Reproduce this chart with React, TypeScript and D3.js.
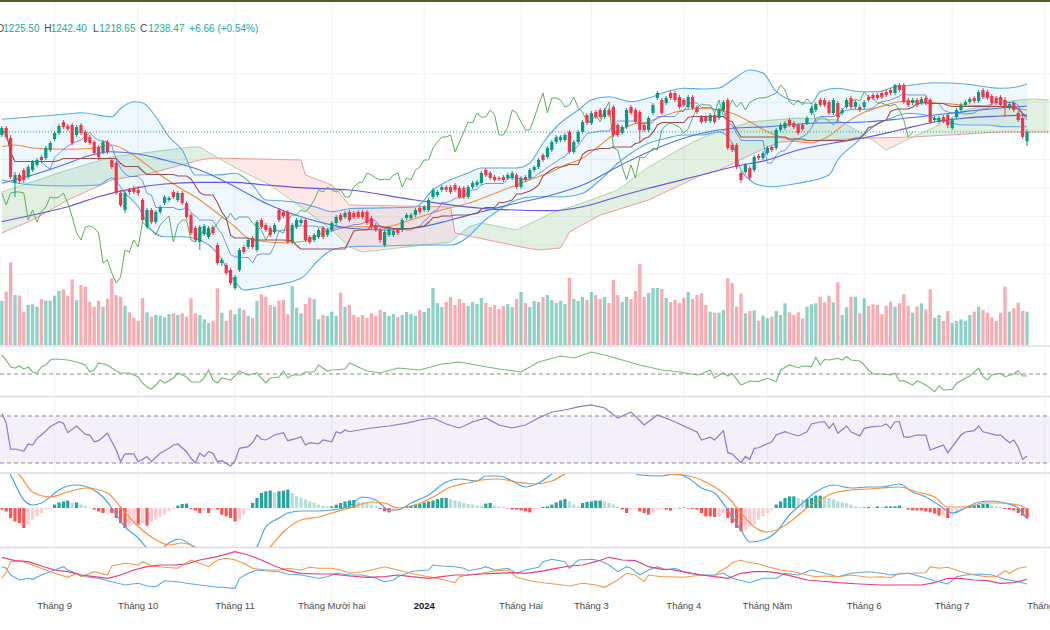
import React from "react";
import * as d3 from "d3";

type Pair = [number, number];

// ---------------- price data (daily bars) ----------------
const opens = [
  1234.3,1244.1,1230.1,1167.1,1178.3,1185.3,1175.5,1185.3,1192.3,1203.5,
  1202.1,1213.3,1228.7,1237.1,1252.5,1246.9,1248.3,1234.3,1248.3,1238.5,
  1231.5,1224.5,1217.5,1210.5,1224.5,1199.3,1195.1,1153.1,1129.3,1157.3,
  1160.1,1157.3,1143.3,1105.5,1129.3,1112.5,1126.5,1139.1,1143.3,1154.5,
  1143.3,1153.1,1139.1,1122.3,1104.1,1084.5,1095.7,1091.5,1105.5,1080.3,
  1055.1,1052.3,1045.3,1020.1,1045.3,1077.5,1077.5,1090.1,1073.3,1115.3,
  1108.3,1104.1,1098.5,1129.3,1126.5,1126.5,1084.5,1105.5,1111.1,1115.3,
  1091.5,1087.3,1091.5,1104.1,1094.3,1101.3,1111.1,1122.3,1119.5,1126.5,
  1125.1,1126.5,1126.5,1126.5,1118.1,1108.3,1101.3,1080.3,1094.3,1094.3,
  1101.3,1101.3,1118.1,1118.1,1122.3,1132.1,1129.3,1129.3,1147.5,1150.3,
  1157.3,1161.5,1161.5,1164.3,1160.1,1160.1,1147.5,1161.5,1164.3,1167.1,
  1185.3,1181.1,1175.5,1174.1,1175.5,1174.1,1174.1,1178.3,1161.5,1175.5,
  1174.1,1185.3,1189.5,1206.3,1203.5,1213.3,1224.5,1227.3,1227.3,1238.5,
  1210.5,1224.5,1238.5,1262.3,1251.1,1266.5,1269.3,1259.5,1269.3,1273.5,
  1248.3,1237.1,1245.5,1273.5,1269.3,1266.5,1248.3,1241.3,1265.1,1286.1,
  1283.3,1279.1,1293.1,1293.1,1287.5,1283.3,1273.5,1287.5,1273.5,1259.5,
  1259.5,1253.9,1262.3,1258.1,1269.3,1283.3,1220.3,1220.3,1181.1,1182.5,
  1188.1,1185.3,1204.9,1202.1,1209.1,1217.5,1216.1,1241.3,1244.1,1255.3,
  1251.1,1248.3,1248.3,1251.1,1265.1,1269.3,1283.3,1283.3,1280.5,1265.1,
  1279.1,1265.1,1273.5,1286.1,1273.5,1273.5,1273.5,1287.5,1290.3,1290.3,
  1293.1,1294.5,1297.3,1293.1,1304.3,1304.3,1283.3,1279.1,1283.3,1279.1,
  1286.1,1283.3,1255.3,1252.5,1259.5,1262.3,1244.1,1259.5,1269.3,1276.3,
  1280.5,1286.1,1281.9,1297.3,1294.5,1288.9,1286.1,1287.5,1283.3,1272.1,
  1279.1,1265.1,1258.1,1225.5,
];
const highs = [
  1246.9,1246.9,1234.3,1182.5,1181.1,1188.1,1192.3,1199.3,1202.1,1206.3,
  1218.9,1225.9,1239.9,1249.7,1255.3,1249.7,1251.1,1248.3,1251.1,1241.3,
  1234.3,1227.3,1220.3,1227.3,1227.3,1202.1,1197.9,1157.3,1155.9,1160.1,
  1162.9,1162.9,1146.1,1132.1,1132.1,1129.3,1136.3,1150.3,1148.9,1157.3,
  1155.9,1155.9,1141.9,1125.1,1106.9,1108.3,1109.7,1106.9,1108.3,1083.1,
  1062.1,1055.1,1048.1,1038.3,1076.1,1080.3,1090.1,1092.9,1115.3,1118.1,
  1111.1,1106.9,1111.1,1132.1,1129.3,1129.3,1111.1,1118.1,1118.1,1118.1,
  1094.3,1097.1,1104.1,1106.9,1104.1,1113.9,1122.3,1125.1,1127.9,1129.3,
  1127.9,1129.3,1129.3,1129.3,1120.9,1111.1,1104.1,1101.3,1104.1,1102.7,
  1104.1,1118.1,1125.1,1125.1,1132.1,1134.9,1136.3,1146.1,1160.1,1157.3,
  1164.3,1164.3,1164.3,1167.1,1162.9,1162.9,1164.3,1169.9,1171.3,1183.9,
  1188.1,1183.9,1178.3,1176.9,1178.3,1181.1,1183.9,1181.1,1176.9,1178.3,
  1188.1,1192.3,1202.1,1209.1,1218.9,1227.3,1234.3,1234.3,1237.1,1241.3,
  1227.3,1241.3,1255.3,1265.1,1267.9,1269.3,1272.1,1272.1,1272.1,1276.3,
  1251.1,1248.3,1272.1,1276.3,1272.1,1269.3,1251.1,1260.9,1279.1,1295.9,
  1286.1,1288.9,1295.9,1295.9,1290.3,1286.1,1290.3,1290.3,1276.3,1262.3,
  1262.3,1265.1,1265.1,1272.1,1283.3,1286.1,1223.1,1223.1,1183.9,1195.1,
  1190.9,1206.3,1207.7,1211.9,1218.9,1220.3,1244.1,1251.1,1253.9,1258.1,
  1253.9,1251.1,1251.1,1260.9,1274.9,1280.5,1286.1,1286.1,1283.3,1286.1,
  1281.9,1272.1,1286.1,1288.9,1283.3,1276.3,1283.3,1290.3,1293.1,1293.1,
  1295.9,1297.3,1300.1,1305.7,1307.1,1307.1,1286.1,1286.1,1286.1,1287.5,
  1288.9,1286.1,1260.9,1260.9,1262.3,1265.1,1258.1,1272.1,1279.1,1283.3,
  1287.5,1288.9,1297.3,1300.1,1297.3,1291.7,1288.9,1290.3,1287.5,1280.5,
  1281.9,1267.9,1260.9,1242.4,
];
const lows = [
  1231.5,1228.7,1172.7,1147.5,1165.7,1167.1,1172.7,1182.5,1189.5,1195.1,
  1199.3,1210.5,1225.9,1234.3,1242.7,1239.9,1220.3,1231.5,1234.3,1223.1,
  1220.3,1206.3,1199.3,1207.7,1207.7,1186.7,1150.3,1133.5,1125.1,1150.3,
  1151.7,1148.9,1112.5,1102.7,1109.7,1109.7,1123.7,1136.3,1140.5,1144.7,
  1140.5,1136.3,1116.7,1094.3,1084.5,1073.3,1092.9,1088.7,1094.3,1052.3,
  1050.9,1038.3,1024.3,1017.3,1042.5,1067.7,1074.7,1074.7,1070.5,1102.7,
  1098.5,1091.5,1095.7,1112.5,1118.1,1081.7,1081.7,1102.7,1108.3,1084.5,
  1081.7,1084.5,1088.7,1088.7,1091.5,1098.5,1108.3,1112.5,1116.7,1112.5,
  1116.7,1116.7,1116.7,1108.3,1102.7,1098.5,1083.1,1077.5,1091.5,1091.5,
  1094.3,1098.5,1115.3,1115.3,1119.5,1123.7,1126.5,1126.5,1144.7,1147.5,
  1154.5,1154.5,1151.7,1154.5,1144.7,1144.7,1144.7,1158.7,1161.5,1164.3,
  1175.5,1171.3,1168.5,1169.9,1168.5,1171.3,1171.3,1158.7,1158.7,1168.5,
  1171.3,1182.5,1186.7,1196.5,1200.7,1210.5,1221.7,1224.5,1224.5,1207.7,
  1207.7,1221.7,1235.7,1248.3,1248.3,1256.7,1256.7,1256.7,1259.5,1231.5,
  1231.5,1234.3,1242.7,1262.3,1249.7,1224.5,1238.5,1238.5,1262.3,1283.3,
  1262.3,1276.3,1283.3,1280.5,1270.7,1273.5,1270.7,1269.3,1263.7,1249.7,
  1251.1,1251.1,1249.7,1255.3,1266.5,1213.3,1210.5,1186.7,1167.1,1179.7,
  1171.3,1182.5,1199.3,1199.3,1206.3,1210.5,1213.3,1238.5,1241.3,1245.5,
  1242.7,1234.3,1239.9,1248.3,1262.3,1266.5,1273.5,1273.5,1262.3,1262.3,
  1251.1,1262.3,1270.7,1270.7,1270.7,1266.5,1270.7,1280.5,1283.3,1283.3,
  1284.7,1287.5,1290.3,1290.3,1294.5,1277.7,1273.5,1276.3,1273.5,1276.3,
  1276.3,1249.7,1252.5,1249.7,1251.1,1244.1,1241.3,1256.7,1266.5,1273.5,
  1277.7,1279.1,1279.1,1284.7,1283.3,1276.3,1276.3,1273.5,1259.5,1269.3,
  1266.5,1252.5,1228.7,1218.65,
];
const closes = [
  1244.1,1231.5,1175.5,1178.3,1169.9,1171.3,1189.5,1196.5,1199.3,1199.3,
  1216.1,1223.1,1237.1,1246.9,1245.5,1242.7,1223.1,1245.5,1237.1,1224.5,
  1223.1,1209.1,1203.5,1224.5,1210.5,1189.5,1153.1,1136.3,1153.1,1154.5,
  1154.5,1153.1,1115.3,1129.3,1112.5,1126.5,1133.5,1147.5,1146.1,1147.5,
  1153.1,1139.1,1119.5,1097.1,1087.3,1105.5,1106.9,1104.1,1097.1,1055.1,
  1059.3,1041.1,1027.1,1035.5,1073.3,1070.5,1087.3,1077.5,1112.5,1105.5,
  1101.3,1094.3,1108.3,1115.3,1120.9,1084.5,1108.3,1115.3,1115.3,1087.3,
  1084.5,1094.3,1101.3,1091.5,1101.3,1111.1,1119.5,1115.3,1125.1,1115.3,
  1119.5,1119.5,1119.5,1111.1,1105.5,1101.3,1087.3,1098.5,1101.3,1099.9,
  1097.1,1115.3,1122.3,1122.3,1129.3,1126.5,1133.5,1143.3,1157.3,1154.5,
  1161.5,1157.3,1154.5,1157.3,1147.5,1147.5,1161.5,1167.1,1168.5,1181.1,
  1178.3,1174.1,1171.3,1172.7,1171.3,1178.3,1181.1,1161.5,1174.1,1171.3,
  1185.3,1189.5,1199.3,1199.3,1216.1,1224.5,1231.5,1231.5,1234.3,1210.5,
  1224.5,1238.5,1252.5,1251.1,1265.1,1259.5,1259.5,1269.3,1262.3,1234.3,
  1234.3,1245.5,1269.3,1265.1,1252.5,1241.3,1241.3,1258.1,1276.3,1293.1,
  1265.1,1286.1,1286.1,1283.3,1273.5,1276.3,1287.5,1272.1,1266.5,1252.5,
  1253.9,1262.3,1252.5,1269.3,1280.5,1216.1,1213.3,1189.5,1171.3,1192.3,
  1174.1,1203.5,1202.1,1209.1,1216.1,1213.3,1241.3,1248.3,1251.1,1248.3,
  1245.5,1237.1,1242.7,1258.1,1272.1,1277.7,1276.3,1276.3,1265.1,1283.3,
  1259.5,1269.3,1283.3,1273.5,1280.5,1269.3,1280.5,1283.3,1286.1,1286.1,
  1287.5,1290.3,1293.1,1304.3,1297.3,1280.5,1276.3,1283.3,1276.3,1284.7,
  1279.1,1252.5,1258.1,1258.1,1253.9,1248.3,1255.3,1269.3,1276.3,1280.5,
  1284.7,1281.9,1294.5,1287.5,1286.1,1279.1,1279.1,1276.3,1274.9,1277.7,
  1269.3,1255.3,1231.81,1238.47,
];
const volumes = [
  440,533,827,500,493,333,400,407,383,457,
  443,443,493,540,557,493,657,447,600,583,
  433,383,443,383,463,667,500,483,393,327,
  273,243,467,327,283,300,293,277,310,317,
  300,317,283,467,317,300,257,223,243,567,
  323,243,350,307,367,350,290,267,443,507,
  483,400,383,443,450,307,590,373,317,410,
  473,457,257,300,290,333,293,523,383,400,
  300,280,300,270,320,290,350,330,290,310,
  280,300,330,310,290,350,330,370,570,420,
  380,430,480,400,460,420,390,430,410,470,
  420,380,400,360,390,410,380,460,530,420,
  380,440,430,480,500,450,420,440,410,670,
  460,440,480,450,530,500,460,480,420,650,
  500,430,480,460,540,810,480,520,570,570,
  560,470,430,450,420,470,530,460,500,517,
  400,333,323,323,350,667,617,383,517,317,
  340,347,243,293,267,283,340,300,417,327,
  300,327,267,383,407,417,483,427,493,427,
  627,300,377,483,483,317,467,390,407,400,
  307,393,433,383,417,507,393,323,383,417,
  357,557,273,300,240,340,223,240,257,243,
  300,333,383,350,323,277,240,323,583,333,
  367,423,340,333,
];

// ---------------- indicator readings [barIndex, value] ----------------
const bbUpper: Pair[] = [[0,1256.3],[7,1259.9],[15,1263.7],[18,1265.5],[25,1259.9],[27,1271.7],[30,1280.9],[32,1279.5],[35,1259.9],[38,1231.9],[41,1213.3],[44,1178.3],[49,1178.3],[53,1180.7],[57,1164.3],[60,1143.3],[64,1141.9],[68,1138.7],[72,1132.1],[75,1126.9],[79,1131],[94,1133.5],[98,1157.3],[106,1181.1],[109,1188.1],[117,1188.1],[120,1195.1],[123,1223.1],[126,1245.5],[131,1269.3],[134,1283.3],[138,1287.9],[143,1280.9],[147,1286.1],[151,1294.9],[155,1299.7],[159,1298.7],[163,1300.1],[166,1311.3],[170,1325.3],[173,1321.1],[176,1294.9],[181,1280.9],[184,1278.7],[186,1294.9],[190,1299.7],[195,1294.9],[199,1294.9],[203,1301.9],[207,1304.3],[212,1307.5],[219,1305.7],[227,1299.7],[231,1301.9],[233,1305.7]];
const bbLower: Pair[] = [[0,1171.3],[7,1164.3],[15,1162.9],[22,1164.3],[25,1174.1],[28,1152.7],[31,1133.9],[34,1101.3],[37,1091.9],[41,1091.9],[45,1087.3],[49,1068.7],[53,1028.9],[55,1017.3],[60,1021.9],[68,1033.7],[72,1059.3],[75,1073.3],[79,1077.9],[87,1078.9],[94,1080.3],[102,1080.3],[106,1091.9],[109,1110.7],[113,1129.3],[117,1143.3],[121,1147.9],[128,1147.9],[132,1152.7],[136,1171.3],[140,1194.7],[143,1208.7],[147,1222.7],[151,1229.7],[155,1234.3],[159,1234.3],[163,1238.9],[166,1222.7],[168,1185.3],[170,1171.3],[172,1164.3],[175,1161.9],[181,1166.7],[188,1178.3],[190,1199.3],[194,1222.7],[198,1245.9],[202,1257.7],[206,1264.7],[210,1262.3],[213,1255.3],[216,1250.7],[219,1248.3],[224,1248.3],[228,1245.9],[233,1245.9]];
const bbBasis: Pair[] = [[0,1217.9],[3,1220.3],[7,1216.1],[15,1214.3],[21,1216.1],[25,1220.3],[28,1213.3],[32,1196.9],[36,1178.3],[40,1161.9],[45,1143.3],[49,1124.7],[53,1105.9],[56,1089.7],[60,1084.9],[64,1083.5],[68,1084.9],[72,1094.3],[75,1103.7],[79,1105.9],[87,1105.9],[94,1117.7],[100,1129.3],[106,1138.7],[113,1154.9],[117,1164.3],[121,1173.7],[125,1182.9],[128,1192.3],[132,1201.7],[136,1220.3],[140,1238.9],[143,1248.3],[147,1252.9],[151,1262.3],[155,1269.3],[159,1271.7],[163,1269.3],[166,1264.7],[170,1252.9],[174,1238.9],[178,1229.7],[181,1224.9],[184,1223.5],[188,1233],[192,1252],[196,1266],[201,1276.3],[204,1280.9],[208,1280.9],[212,1279.5],[219,1276.3],[227,1273.9],[233,1269.3]];
const maMid: Pair[] = [[0,1166.7],[7,1178.3],[15,1194.7],[19,1203.9],[25,1210.9],[30,1208.7],[37,1199.3],[45,1185.3],[53,1161.9],[60,1138.7],[68,1119.9],[75,1108.3],[79,1103.7],[87,1101.3],[94,1104.1],[102,1115.3],[109,1126.9],[117,1138.7],[125,1150.3],[132,1164.3],[140,1189.9],[147,1210.9],[155,1229.7],[159,1236.7],[166,1243.7],[174,1245.9],[184,1250.7],[197,1252.9],[204,1256.7],[216,1265.1],[227,1272.1],[233,1274.9]];
const maSlow: Pair[] = [[0,1112.9],[7,1122.3],[15,1133.9],[22,1147.9],[30,1159.7],[37,1165.7],[45,1168.1],[53,1168.1],[60,1164.3],[68,1160.5],[79,1157.3],[94,1143.3],[109,1131.7],[125,1128.3],[132,1133.9],[140,1147.9],[147,1159.7],[159,1178.3],[166,1189.5],[174,1199.3],[181,1213.3],[189,1223.1],[197,1231.5],[204,1241.3],[212,1252.5],[219,1258.1],[227,1260.9],[233,1262.3]];
const spanA: Pair[] = [[0,1154.5],[15,1185.3],[25,1203.5],[34,1210.5],[43,1217.5],[45,1217.5],[48,1206.3],[54,1185.3],[61,1164.3],[68,1133.5],[75,1101.3],[79,1077.5],[82,1070.5],[102,1084.5],[106,1105.5],[109,1111.1],[117,1101.3],[125,1125.1],[132,1139.1],[140,1157.3],[147,1189.5],[155,1217.5],[159,1230.1],[170,1252.5],[181,1258.1],[190,1255.3],[197,1231.5],[201,1213.3],[207,1231.5],[212,1245.5],[219,1269.3],[227,1280.5],[234,1284.7],[238,1283.3]];
const spanB: Pair[] = [[0,1097.1],[7,1115.3],[15,1143.3],[25,1171.3],[34,1181.1],[45,1199.3],[48,1202.1],[68,1199.3],[69,1178.3],[75,1164.3],[78,1143.3],[79,1136.3],[102,1133.5],[103,1097.1],[118,1077.5],[122,1073.3],[127,1076.1],[129,1098.5],[136,1122.3],[147,1143.3],[159,1178.3],[163,1185.3],[174,1217.5],[177,1224.5],[197,1230.1],[207,1231.5],[227,1238.5],[238,1238.5]];

const oscLine: Pair[] = [[0,0.19],[1,0.14],[2,0.07],[3,0.06],[4,0.08],[5,0.05],[6,0.07],[7,0.02],[8,0.01],[9,0.07],[10,0.09],[11,0.14],[12,0.15],[15,0.14],[17,0.12],[19,0.09],[20,0.02],[21,0.04],[22,0.11],[24,0.09],[25,0.06],[26,0.03],[27,0.01],[29,0.01],[31,-0.03],[32,-0.09],[33,-0.13],[34,-0.15],[35,-0.11],[36,-0.06],[37,-0.09],[39,-0.04],[40,0.01],[42,-0.03],[43,-0.08],[45,-0.08],[46,-0.04],[47,0.04],[48,-0.06],[49,-0.09],[50,-0.04],[52,-0.06],[53,-0.02],[54,0.03],[56,-0.01],[57,0],[58,0.01],[60,-0.09],[61,-0.04],[63,-0.03],[64,0.03],[65,-0.04],[66,-0.01],[68,-0.01],[69,0.02],[71,0.02],[72,0.09],[74,0.03],[75,0.04],[78,0.05],[79,0.11],[83,0.03],[86,0.01],[90,0.06],[95,0.04],[100,0.1],[104,0.12],[109,0.08],[113,0.05],[118,0.02],[122,0.12],[127,0.18],[130,0.16],[134,0.22],[137,0.19],[141,0.14],[145,0.09],[150,0.04],[154,0.02],[158,-0.01],[159,0],[161,0.04],[162,-0.04],[164,0.013],[165,-0.02],[166,0.007],[168,-0.11],[170,-0.07],[172,-0.077],[174,-0.043],[176,-0.077],[177,0.04],[179,0.09],[181,0.063],[182,0.08],[184,0.073],[185,0.167],[186,0.09],[187,0.147],[188,0.14],[190,0.157],[191,0.14],[192,0.173],[193,0.14],[195,0.13],[196,0.09],[197,0.04],[198,0],[200,0],[202,-0.01],[203,0.007],[204,-0.07],[205,-0.067],[207,-0.11],[208,-0.07],[209,-0.087],[210,-0.11],[212,-0.177],[213,-0.12],[214,-0.16],[216,-0.153],[217,-0.093],[219,-0.043],[220,-0.02],[222,0.057],[223,-0.027],[224,-0.06],[225,-0.01],[227,0.007],[228,-0.027],[230,0],[231,0.033],[232,-0.02],[233,-0.02]];

const rsiLine: Pair[] = [[0,72.3],[1,63.8],[2,41.7],[3,41.9],[5,40.2],[6,46.2],[7,45.3],[8,51],[9,53.8],[11,60.9],[13,65.1],[14,63.8],[15,55.8],[17,61.5],[19,54.4],[20,53.8],[21,48.1],[22,49],[24,55.3],[26,41.1],[27,31.1],[28,37.7],[30,37.7],[31,31.1],[33,35.4],[34,31.1],[36,38.3],[38,42.5],[39,45.3],[40,46.2],[42,39.6],[43,34],[44,30.3],[45,38.3],[46,35.4],[47,39.6],[48,38.3],[49,31.1],[50,32],[52,27.4],[53,31.7],[54,42.5],[56,43.9],[57,47.3],[58,53.8],[59,50.2],[60,49.6],[62,53.8],[64,55.8],[65,49],[67,51],[68,52.4],[69,45.3],[70,47.3],[72,46.2],[73,49.6],[75,48.1],[76,56.6],[77,55.3],[78,58.1],[79,56.6],[84,59.8],[88,61.5],[92,64],[95,66.6],[98,68.3],[101,63.2],[104,59.8],[107,64.9],[110,68.3],[113,62.3],[116,59.8],[119,62.3],[122,68.3],[125,73.4],[128,75.1],[131,77.7],[134,79.4],[137,76.8],[140,68.3],[143,73.4],[146,62.3],[149,70.9],[152,66.6],[155,61.5],[158,56.4],[159,49.6],[161,51.9],[162,49.6],[164,57.5],[165,38.8],[166,37.7],[168,30.3],[169,35.4],[170,33.1],[171,42.5],[172,43],[175,48.1],[176,53.8],[178,56.6],[179,55.3],[181,53],[183,56.6],[184,63.2],[186,64.9],[187,65.1],[188,59.5],[189,63.8],[190,55.3],[192,61.5],[193,56.6],[195,53],[196,59.5],[198,60.9],[200,61.5],[201,63.2],[202,59.5],[203,65.1],[204,65.1],[205,52.4],[206,51.9],[208,53.8],[210,53.8],[211,41.1],[213,43.9],[214,45.3],[215,38.8],[218,53.8],[219,56.4],[221,57.5],[222,61.5],[223,56.6],[226,53.8],[227,53.8],[229,47.3],[230,49.6],[231,43.4],[232,33.1],[233,36]];

const macdLine: Pair[] = [[0,24],[2,16.5],[5,4],[7,1.5],[9,2.5],[13,9],[15,11],[17,11.5],[20,10],[23,5.5],[25,0],[28,-9.5],[31,-15],[33,-20],[35,-22],[38,-17.5],[40,-15.5],[43,-18.5],[46,-26],[50,-31],[53,-32],[55,-28.5],[58,-19.5],[60,-9.5],[63,-5],[65,-2.5],[68,-1.5],[72,-1.5],[75,-1],[79,1],[82,5.5],[85,4],[88,-1],[90,-1],[93,2.5],[97,6.5],[101,13],[104,14.5],[108,13.5],[110,16],[113,16],[116,13.5],[119,10.5],[122,12.5],[125,17],[127,20],[131,24],[136,25],[140,23],[145,16.5],[150,16],[153,17],[156,15],[159,10],[162,7.5],[165,-1],[168,-11],[170,-17],[173,-16],[176,-12],[179,-3.5],[182,2.5],[185,8],[189,11.5],[193,10],[197,10.5],[200,10.5],[204,12],[207,8],[210,5.5],[213,1.5],[216,-2.5],[219,0],[222,3],[225,3.5],[228,2.5],[231,0],[233,-5.5]];
const signalLine: Pair[] = [[0,21.5],[4,16.5],[7,8],[11,5.5],[15,8],[19,10],[24,7.5],[27,0.5],[30,-7],[34,-14.5],[38,-18.5],[41,-17.5],[45,-20.5],[48,-24],[53,-27],[58,-26],[61,-19.5],[64,-12],[68,-6],[72,-4.5],[75,-2.5],[79,0],[84,3],[87,2.5],[90,0],[94,1.5],[98,5.5],[102,10.5],[106,12.5],[109,14],[113,14.5],[117,13],[121,12],[125,13.5],[128,17],[131,20],[136,22.5],[143,23],[147,21],[151,17],[155,16.5],[159,14],[162,10.5],[165,5.5],[168,-2.5],[171,-9.5],[174,-12],[177,-10],[180,-5.5],[183,0],[186,4],[189,7.5],[193,9],[197,9.5],[200,10],[204,10.5],[208,8],[212,5.5],[215,0.5],[219,0.5],[223,2.5],[227,2.5],[231,1.5],[233,-0.5]];
const macdHist = [
  -0.8,-1.7,-5,-6.7,-7.5,-10,-8.3,-5.8,-4.2,-2.5,
  -0.8,-0.3,1.7,2.8,3.3,3.7,2.5,2.8,1.7,0.8,
  0.2,-0.8,-1.7,-2.5,-0.8,-2.5,-5,-7.5,-10,-9.2,
  -8.3,-8.3,-7.5,-8.8,-6.7,-5.8,-4.5,-3.3,-1.7,-0.5,
  1.2,2,2.2,-0.5,-1.2,-2.5,-1.3,-2.5,-0.8,-0.8,
  -3.3,-4.2,-5,-6.7,-5.8,-3.3,-0.8,2.5,5,7.5,
  8.3,8.7,7.8,8.3,8.7,9.2,7.5,5.8,5,4.2,
  3.3,2.5,1.7,1.2,0.8,0.8,1.7,2.5,3.3,3.8,
  4,3.3,2.8,2.5,1.7,0.8,-0.5,-1.7,-2.2,-1.7,
  -0.8,-0.3,0.8,1.2,1.7,2.2,2.8,3.3,3.8,4.5,
  5,5,4.5,3.8,3.3,2.5,2,1.7,1.3,1.2,
  2.2,2.5,1.2,0.8,0.5,-0.3,-0.8,-0.8,-1.2,-1.7,
  -2.2,-0.8,-0.5,0.5,0.8,1.7,2.8,3.8,4.5,3.3,
  1.7,0.8,2.5,3,3.3,3.7,3.7,3.3,2.5,1.7,
  0.8,-0.8,-2.5,-0.8,-0.5,-1.7,-2.5,-3.3,-2.2,-0.8,
  -0.5,-0.8,-1.3,-0.5,0.1,0.3,-0.1,-0.5,-0.8,-2.5,
  -4.2,-4.2,-4.5,-4.2,-2.5,-5,-7.5,-10,-11.7,-10.8,
  -9.2,-8.3,-5.8,-4.2,-2.5,-0.8,1.7,3.3,5,5.8,
  5.8,5,4.2,4.5,5,6.2,6.2,5.8,5,4.2,
  3.3,2.8,2.5,1.7,0.8,0.3,0.3,0.5,0.3,0.8,
  0.5,0.8,0.8,0.8,1.2,0.5,-0.8,-1.2,-1.2,-1.2,
  -1.7,-2.2,-2.8,-3.8,-3.3,-5,-4.2,-2.5,-0.8,-0.1,
  1.2,1.3,1.7,2,2,1.2,0.8,0.5,-0.5,-0.8,
  -1.2,-2.5,-3.8,-5,
];

const diPlus: Pair[] = [[0,31.3],[1,29.7],[2,23],[4,18],[6,19.7],[7,18.7],[9,23],[12,28],[14,31.3],[15,28],[17,24.7],[19,21.3],[22,19.7],[25,16.3],[28,13],[31,14.7],[33,12],[35,11.3],[37,17.3],[40,16.3],[42,14.7],[45,13],[48,11.3],[50,10.7],[53,9.7],[54,19.7],[56,24.7],[58,28],[60,27.3],[63,26.3],[65,24],[68,23],[72,19.7],[74,21.3],[75,23],[76,24.7],[79,23],[82,23],[85,19.7],[87,16.3],[89,18],[90,21.3],[93,26.3],[94,27],[97,28],[98,33],[100,32],[103,31.3],[105,29.7],[106,27.3],[109,29.7],[110,31.3],[112,28],[115,29.7],[117,24.7],[119,28],[122,30.7],[123,36.3],[125,38.7],[128,36.3],[129,29.7],[131,38],[134,38.7],[136,37.3],[138,33],[140,26.3],[142,31.3],[143,29.7],[145,23],[147,28],[149,31.3],[151,28],[153,29.7],[156,24.7],[159,23],[162,23],[164,24.7],[166,19.7],[170,15.3],[173,19.7],[176,19.7],[178,24.7],[181,23],[184,28],[187,24.7],[190,21.3],[193,24.7],[197,26.3],[200,24.7],[202,23],[206,24.7],[209,21.3],[212,17.3],[215,14],[217,21.3],[219,23],[222,24],[225,23],[228,18.7],[231,16.3],[233,14]];
const diMinus: Pair[] = [[0,19.7],[1,26.3],[2,36.3],[4,37.3],[6,34.7],[8,31.3],[10,28],[12,24.7],[15,20.7],[17,24.7],[18,21.3],[21,26.3],[24,23],[25,32],[28,34.7],[31,33],[32,36.3],[34,32],[37,30.7],[40,29.7],[43,38],[45,34.7],[47,31.3],[49,38],[51,39.7],[53,38],[55,34.7],[57,29.7],[60,28],[63,28],[65,29.7],[68,28],[70,30.7],[72,29.7],[75,29.7],[77,28],[79,24.7],[82,26.3],[84,28],[87,31.3],[90,28],[93,24.7],[96,22],[99,19.7],[103,15.3],[104,21.3],[106,23],[109,24.7],[112,27],[115,28],[117,20.7],[120,17.3],[123,15.3],[126,13.7],[129,12],[132,14.7],[135,13],[137,10.7],[140,18],[142,24.7],[144,23],[146,16.3],[147,23],[150,21.3],[152,21.3],[155,20.7],[159,23],[162,22],[163,26.3],[165,31.3],[166,35.3],[168,38],[169,36.3],[172,34],[174,31.3],[177,28],[180,26.3],[183,23],[185,21.3],[187,22],[190,21.3],[193,23],[197,20.7],[200,21.3],[202,20.3],[204,24.7],[207,24.7],[210,25.3],[211,31.3],[213,29.7],[215,30.7],[218,26.3],[221,23],[224,21.3],[226,21.3],[228,27.3],[229,24.7],[231,29.7],[233,31.3]];
const adxLine: Pair[] = [[0,40.7],[3,37.3],[6,36.3],[9,32],[12,28],[15,26.3],[18,23],[21,21.3],[24,19.7],[27,23],[30,28],[33,31.3],[36,33],[39,33],[42,34],[45,38],[49,41.3],[53,46.3],[56,43],[59,38],[62,32],[65,27.3],[68,24.7],[72,24],[75,24],[79,22],[83,20.7],[87,21.3],[90,23],[93,21.3],[97,19.7],[100,21.3],[103,23],[106,23],[109,24],[112,24.7],[116,25.3],[119,24.7],[122,26.3],[126,29.7],[129,32],[132,33],[135,36.3],[138,40.7],[141,38],[144,37.3],[147,31.3],[150,28.7],[152,28.7],[156,25.3],[159,23],[162,21.3],[165,19.7],[168,24.7],[171,26.3],[174,26.3],[177,24.7],[180,21.3],[183,18],[186,17],[190,15.3],[195,14],[200,13],[204,13],[209,13],[212,15.3],[215,19.7],[218,19.7],[221,18],[224,17.3],[227,14.7],[230,15.3],[233,18.7]];

const monthTicks: { bar: number; label: string; strong?: boolean }[] = [
  { bar: 12, label: "Tháng 9" },
  { bar: 31, label: "Tháng 10" },
  { bar: 53, label: "Tháng 11" },
  { bar: 75, label: "Tháng Mười hai" },
  { bar: 96, label: "2024", strong: true },
  { bar: 118, label: "Tháng Hai" },
  { bar: 134, label: "Tháng 3" },
  { bar: 155, label: "Tháng 4" },
  { bar: 174, label: "Tháng Năm" },
  { bar: 196, label: "Tháng 6" },
  { bar: 216, label: "Tháng 7" },
  { bar: 237, label: "Tháng 8" },
];
const priceGrid = [1040, 1080, 1120, 1160, 1200, 1240, 1280, 1320];

// ---------------- helpers ----------------
function interpAt(pairs: Pair[], t: number) {
  if (t <= pairs[0][0]) return pairs[0][1];
  for (let k = 1; k < pairs.length; k++) {
    if (t <= pairs[k][0]) {
      const [x0, y0] = pairs[k - 1];
      const [x1, y1] = pairs[k];
      return y0 + ((y1 - y0) * (t - x0)) / (x1 - x0);
    }
  }
  return pairs[pairs.length - 1][1];
}
function rollingMid(n: number, i: number) {
  const s = Math.max(0, i - n + 1);
  let hi = -Infinity;
  let lo = Infinity;
  for (let k = s; k <= i; k++) {
    hi = Math.max(hi, highs[k]);
    lo = Math.min(lo, lows[k]);
  }
  return (hi + lo) / 2;
}

const UP = "#089981";
const DOWN = "#f23645";
const FONT = "'Liberation Sans', Arial, Helvetica, sans-serif";

export default function App() {
  const W = 1050;
  const H = 630;
  const x = d3.scaleLinear().domain([0, 233]).range([1.8, 1027]);
  const yP = d3.scaleLinear().domain([1000, 1320]).range([302.357, 73.786]);
  const yVol = d3.scaleLinear().domain([0, 1000]).range([345, 245]);
  const yOsc = d3.scaleLinear().domain([-0.2, 0.2]).range([394, 354]);
  const yRsi = d3.scaleLinear().domain([30, 70]).range([463, 416]);
  const yMacd = d3.scaleLinear().domain([-20, 20]).range([548, 468]);
  const yDmi = d3.scaleLinear().domain([0, 50]).range([598, 548]);

  const smoothP = d3.line<Pair>().x((d) => x(d[0])).y((d) => yP(d[1])).curve(d3.curveMonotoneX);
  const linP = d3.line<Pair>().x((d) => x(d[0])).y((d) => yP(d[1]));
  const linOsc = d3.line<Pair>().x((d) => x(d[0])).y((d) => yOsc(d[1]));
  const linRsi = d3.line<Pair>().x((d) => x(d[0])).y((d) => yRsi(d[1]));
  const smMacd = d3.line<Pair>().x((d) => x(d[0])).y((d) => yMacd(d[1])).curve(d3.curveMonotoneX);
  const linDmi = d3.line<Pair>().x((d) => x(d[0])).y((d) => yDmi(d[1]));

  // Bollinger fill
  const upPath = smoothP(bbUpper) as string;
  const loRev = smoothP([...bbLower].reverse()) as string;
  const bbFill = upPath + "L" + loRev.slice(1) + "Z";

  // Ichimoku cloud
  const cb = d3.range(0, 239);
  const cA = cb.map((i) => interpAt(spanA, i));
  const cB = cb.map((i) => interpAt(spanB, i));
  const areaAB = d3.area<number>().x((i) => x(i)).y0((i) => yP(cB[i])).y1((i) => yP(cA[i]));
  const clipAbove = d3.area<number>().x((i) => x(i)).y0((i) => yP(cB[i])).y1(0);
  const clipBelow = d3.area<number>().x((i) => x(i)).y0((i) => yP(cB[i])).y1(420);
  const lineA = d3.line<number>().x((i) => x(i)).y((i) => yP(cA[i]));
  const lineB = d3.line<number>().x((i) => x(i)).y((i) => yP(cB[i]));

  const tenkan: Pair[] = closes.map((_, i) => [i, rollingMid(9, i)]);
  const kijun: Pair[] = closes.map((_, i) => [i, rollingMid(26, i)]);
  const lagging: Pair[] = closes.slice(26).map((c, i) => [i, c]);

  const lastClose = closes[closes.length - 1];

  return (
    <svg
      width={W}
      height={H}
      viewBox={`0 0 ${W} ${H}`}
      style={{ position: "absolute", left: 0, top: 0, background: "#fff", fontFamily: FONT }}
    >
      <defs>
        <clipPath id="mainClip"><rect x={0} y={2} width={W} height={343} /></clipPath>
        <clipPath id="oscClip"><rect x={0} y={347} width={W} height={49} /></clipPath>
        <clipPath id="rsiClip"><rect x={0} y={398} width={W} height={74} /></clipPath>
        <clipPath id="macdClip"><rect x={0} y={474} width={W} height={73} /></clipPath>
        <clipPath id="dmiClip"><rect x={0} y={548} width={W} height={52} /></clipPath>
        <clipPath id="cloudUp"><path d={clipAbove(cb) as string} /></clipPath>
        <clipPath id="cloudDn"><path d={clipBelow(cb) as string} /></clipPath>
      </defs>
      <rect x={0} y={0} width={W} height={H} fill="#ffffff" />

      {/* grid */}
      {monthTicks.map((t) => (
        <line key={"vg" + t.bar} x1={x(t.bar)} x2={x(t.bar)} y1={2} y2={598} stroke="#f2f2f4" strokeWidth={1} />
      ))}
      {priceGrid.map((p) => (
        <line key={"hg" + p} x1={0} x2={W} y1={yP(p)} y2={yP(p)} stroke="#f3f3f5" strokeWidth={1} />
      ))}

      {/* top border */}
      <rect x={0} y={0} width={W} height={2} fill="#4f6128" />

      {/* main pane */}
      <g clipPath="url(#mainClip)">
        {/* volume */}
        {volumes.map((v, i) => (
          <rect
            key={"v" + i}
            x={x(i) - 1.65}
            y={yVol(v)}
            width={3.3}
            height={345 - yVol(v)}
            fill={closes[i] >= opens[i] ? "rgba(8,153,129,0.45)" : "rgba(242,54,69,0.42)"}
          />
        ))}
        {/* cloud */}
        <path d={areaAB(cb) as string} fill="rgba(67,160,71,0.16)" clipPath="url(#cloudUp)" />
        <path d={areaAB(cb) as string} fill="rgba(244,67,54,0.13)" clipPath="url(#cloudDn)" />
        <path d={lineA(cb) as string} fill="none" stroke="#a5d6a7" strokeWidth={1} />
        <path d={lineB(cb) as string} fill="none" stroke="#ef9a9a" strokeWidth={1} />
        {/* bollinger */}
        <path d={bbFill} fill="rgba(33,150,243,0.07)" />
        <path d={upPath} fill="none" stroke="#5aa7e8" strokeWidth={1.1} />
        <path d={smoothP(bbLower) as string} fill="none" stroke="#5aa7e8" strokeWidth={1.1} />
        <path d={smoothP(bbBasis) as string} fill="none" stroke="#f28c3c" strokeWidth={1.1} />
        {/* moving averages */}
        <path d={smoothP(maSlow) as string} fill="none" stroke="#6a55d8" strokeWidth={1.2} />
        <path d={smoothP(maMid) as string} fill="none" stroke="#4a72e8" strokeWidth={1.1} />
        {/* ichimoku lines */}
        <path d={linP(lagging) as string} fill="none" stroke="#5fae5c" strokeWidth={1} />
        <path d={linP(tenkan) as string} fill="none" stroke="#3d6ef0" strokeWidth={0.9} opacity={0.8} />
        <path d={linP(kijun) as string} fill="none" stroke="#9b4f4f" strokeWidth={1.1} />
        {/* price line */}
        <line x1={0} x2={W} y1={yP(lastClose)} y2={yP(lastClose)} stroke="#22ab94" strokeWidth={1} strokeDasharray="1 2" />
        {/* candles */}
        {closes.map((c, i) => {
          const o = opens[i];
          const col = c >= o ? UP : DOWN;
          const xc = x(i);
          const yt = yP(Math.max(o, c));
          const yb = yP(Math.min(o, c));
          return (
            <g key={"c" + i}>
              <line x1={xc} x2={xc} y1={yP(highs[i])} y2={yP(lows[i])} stroke={col} strokeWidth={1} />
              <rect x={xc - 1.6} y={yt} width={3.2} height={Math.max(1, yb - yt)} fill={col} />
            </g>
          );
        })}
      </g>

      {/* separators */}
      {[346, 396.5, 473, 547.5].map((yy) => (
        <line key={"s" + yy} x1={0} x2={W} y1={yy} y2={yy} stroke="#dcdce8" strokeWidth={1.3} />
      ))}

      {/* oscillator pane */}
      <line x1={0} x2={W} y1={yOsc(0)} y2={yOsc(0)} stroke="#8a8a8a" strokeWidth={1} strokeDasharray="4 3" />
      <g clipPath="url(#oscClip)">
        <path d={linOsc(oscLine) as string} fill="none" stroke="#7cba77" strokeWidth={1.2} />
      </g>

      {/* RSI pane */}
      <rect x={0} y={yRsi(70)} width={W} height={yRsi(30) - yRsi(70)} fill="rgba(126,87,194,0.09)" />
      <line x1={0} x2={W} y1={yRsi(70)} y2={yRsi(70)} stroke="#8a8a8a" strokeWidth={1} strokeDasharray="4 3" />
      <line x1={0} x2={W} y1={yRsi(30)} y2={yRsi(30)} stroke="#8a8a8a" strokeWidth={1} strokeDasharray="4 3" />
      <g clipPath="url(#rsiClip)">
        <path d={linRsi(rsiLine) as string} fill="none" stroke="#9575cd" strokeWidth={1.2} />
      </g>

      {/* MACD pane */}
      <g clipPath="url(#macdClip)">
        {macdHist.map((v, i) => {
          const prev = i > 0 ? macdHist[i - 1] : 0;
          let col: string;
          if (v >= 0) col = v >= prev ? "#26a69a" : "#b2dfdb";
          else col = v <= prev ? "#ff5252" : "#ffcdd2";
          const y0 = yMacd(0);
          const y1 = yMacd(v);
          return (
            <rect key={"h" + i} x={x(i) - 1.6} y={Math.min(y0, y1)} width={3.2} height={Math.max(0.6, Math.abs(y1 - y0))} fill={col} />
          );
        })}
        <path d={smMacd(macdLine) as string} fill="none" stroke="#4aa3ec" strokeWidth={1.2} />
        <path d={smMacd(signalLine) as string} fill="none" stroke="#f5923e" strokeWidth={1.2} />
      </g>

      {/* DMI pane */}
      <g clipPath="url(#dmiClip)">
        <path d={linDmi(diPlus) as string} fill="none" stroke="#5aaaea" strokeWidth={1.1} />
        <path d={linDmi(diMinus) as string} fill="none" stroke="#f3994a" strokeWidth={1.1} />
        <path d={linDmi(adxLine) as string} fill="none" stroke="#e6427a" strokeWidth={1.2} />
      </g>

      {/* time axis */}
      {monthTicks.map((t) => (
        <text
          key={"t" + t.bar}
          x={x(t.bar)}
          y={609}
          textAnchor="middle"
          fontSize={9.5}
          fontWeight={t.strong ? 700 : 400}
          fill={t.strong ? "#131722" : "#4a4a4a"}
        >
          {t.label}
        </text>
      ))}

      {/* legend */}
      <g fontSize={10}>
        <text x={-3.5} y={32} fill="#4a4a4a">O</text>
        <text x={3.3} y={32} fill="#22ab94">1225.50</text>
        <text x={44.3} y={32} fill="#4a4a4a">H</text>
        <text x={50.7} y={32} fill="#22ab94">1242.40</text>
        <text x={93} y={32} fill="#4a4a4a">L</text>
        <text x={99.3} y={32} fill="#22ab94">1218.65</text>
        <text x={140} y={32} fill="#4a4a4a">C</text>
        <text x={148.3} y={32} fill="#22ab94">1238.47</text>
        <text x={189.3} y={32} fill="#22ab94">+6.66 (+0.54%)</text>
      </g>
    </svg>
  );
}
